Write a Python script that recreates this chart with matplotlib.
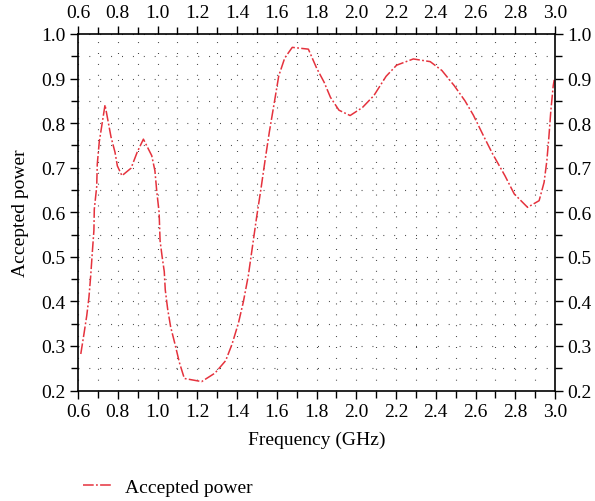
import matplotlib
matplotlib.use("Agg")
import matplotlib.pyplot as plt
from matplotlib.ticker import MultipleLocator

# Accepted power versus frequency
freq_ghz = [0.614, 0.630, 0.644, 0.655, 0.664, 0.672, 0.680, 0.682, 0.694, 0.697,
            0.707, 0.736, 0.766, 0.786, 0.798, 0.821, 0.867, 0.898, 0.929, 0.971,
            0.987, 0.996, 1.008, 1.013, 1.023, 1.034, 1.039, 1.051, 1.066, 1.088,
            1.110, 1.135, 1.222, 1.289, 1.343, 1.375, 1.407, 1.432, 1.457, 1.479,
            1.499, 1.521, 1.541, 1.563, 1.588, 1.610, 1.640, 1.678, 1.759, 1.801,
            1.838, 1.870, 1.913, 1.969, 2.031, 2.089, 2.150, 2.203, 2.287, 2.372,
            2.431, 2.493, 2.547, 2.589, 2.644, 2.686, 2.748, 2.795, 2.862, 2.920,
            2.945, 2.959, 2.969, 2.979, 2.991, 2.996]
accepted = [0.282, 0.327, 0.368, 0.409, 0.458, 0.510, 0.559, 0.607, 0.657, 0.708,
            0.758, 0.841, 0.769, 0.735, 0.704, 0.682, 0.699, 0.735, 0.764, 0.727,
            0.693, 0.648, 0.600, 0.536, 0.501, 0.467, 0.426, 0.383, 0.343, 0.304,
            0.263, 0.227, 0.220, 0.239, 0.267, 0.304, 0.351, 0.399, 0.458, 0.527,
            0.590, 0.654, 0.716, 0.781, 0.847, 0.906, 0.946, 0.970, 0.966, 0.923,
            0.892, 0.858, 0.829, 0.817, 0.835, 0.862, 0.905, 0.930, 0.944, 0.938,
            0.918, 0.884, 0.850, 0.818, 0.768, 0.731, 0.682, 0.641, 0.611, 0.626,
            0.667, 0.716, 0.768, 0.828, 0.884, 0.897]

x_ticks = [0.6, 0.8, 1.0, 1.2, 1.4, 1.6, 1.8, 2.0, 2.2, 2.4, 2.6, 2.8, 3.0]
y_ticks = [0.2, 0.3, 0.4, 0.5, 0.6, 0.7, 0.8, 0.9, 1.0]

plt.rcParams['font.family'] = ['Liberation Serif', 'DejaVu Serif']
plt.rcParams['font.size'] = 14

fig = plt.figure(figsize=(5.95, 5.02), dpi=100)
ax = fig.add_axes([0.1311, 0.2201, 0.8017, 0.7102])

red = '#e5323d'
ax.plot(freq_ghz, accepted, color=red, lw=1.1,
        linestyle=(0, (7, 1.5, 1.2, 1.5)), label='Accepted power')

ax.set_xlim(0.6, 3.0)
ax.set_ylim(0.2, 1.0)
ax.set_xticks(x_ticks)
ax.set_yticks(y_ticks)
ax.set_xticklabels([f"{v:.1f}" for v in x_ticks])
ax.set_yticklabels([f"{v:.1f}" for v in y_ticks])
ax.xaxis.set_minor_locator(MultipleLocator(0.1))
ax.yaxis.set_minor_locator(MultipleLocator(0.05))

ax.tick_params(which='both', direction='out', top=True, right=True,
               labeltop=True, labelright=True, width=1.0, colors='black',
               labelsize=14)
ax.tick_params(which='major', length=6, pad=3)
ax.tick_params(which='minor', length=5)

for sp in ax.spines.values():
    sp.set_linewidth(1.2)

ax.grid(which='both', color='black', linewidth=0.8,
        linestyle=(0, (0.8, 9)), alpha=0.8)

ax.set_xlabel('Frequency (GHz)', fontsize=14, labelpad=8)
ax.set_ylabel('Accepted power', fontsize=14, labelpad=9)

fig.legend(loc='center left', bbox_to_anchor=(0.139, 0.028), frameon=False,
           fontsize=14, handlelength=1.45, handletextpad=0.75,
           borderpad=0, borderaxespad=0)

fig.savefig('out.png', dpi=100)
